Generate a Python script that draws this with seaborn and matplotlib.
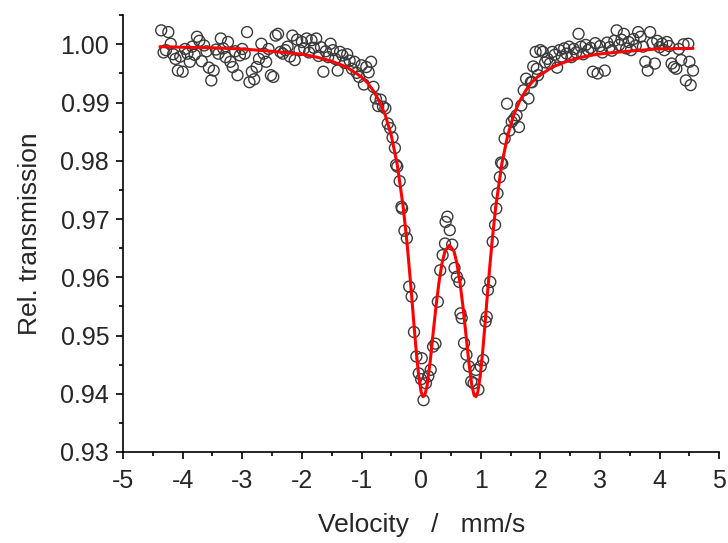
import numpy as np
import pandas as pd
import matplotlib
matplotlib.use("Agg")
import matplotlib.pyplot as plt
from matplotlib.ticker import MultipleLocator, FormatStrFormatter
import seaborn as sns

# measured points (velocity in mm/s, relative transmission)
velocity = [
    -4.36, -4.32, -4.28, -4.24, -4.20, -4.16, -4.12, -4.08, -4.04, -4.00,
    -3.96, -3.92, -3.88, -3.84, -3.80, -3.76, -3.72, -3.68, -3.64, -3.60,
    -3.56, -3.52, -3.48, -3.44, -3.40, -3.36, -3.32, -3.28, -3.24, -3.20,
    -3.16, -3.12, -3.08, -3.04, -3.00, -2.96, -2.92, -2.88, -2.84, -2.80,
    -2.76, -2.72, -2.68, -2.64, -2.60, -2.56, -2.52, -2.48, -2.44, -2.40,
    -2.36, -2.32, -2.28, -2.24, -2.20, -2.16, -2.12, -2.08, -2.04, -2.00,
    -1.96, -1.92, -1.88, -1.84, -1.80, -1.76, -1.72, -1.68, -1.64, -1.60,
    -1.56, -1.52, -1.48, -1.44, -1.40, -1.36, -1.32, -1.28, -1.24, -1.20,
    -1.16, -1.12, -1.08, -1.04, -1.00, -0.96, -0.92, -0.88, -0.84, -0.80,
    -0.76, -0.72, -0.68, -0.64, -0.60, -0.56, -0.52, -0.48, -0.44, -0.40,
    -0.42, -0.36, -0.33, -0.32, -0.28, -0.24, -0.20, -0.16, -0.12, -0.08,
    -0.04, 0.00, 0.01, 0.04, 0.08, 0.12, 0.16, 0.20, 0.24, 0.28,
    0.32, 0.36, 0.40, 0.41, 0.44, 0.48, 0.52, 0.56, 0.60, 0.64,
    0.66, 0.68, 0.72, 0.76, 0.80, 0.84, 0.88, 0.92, 0.96, 1.00,
    1.04, 1.08, 1.10, 1.12, 1.16, 1.20, 1.24, 1.26, 1.28, 1.32,
    1.34, 1.36, 1.40, 1.44, 1.48, 1.52, 1.56, 1.60, 1.64, 1.68,
    1.72, 1.76, 1.80, 1.84, 1.86, 1.88, 1.92, 1.94, 1.96, 2.00,
    2.04, 2.08, 2.12, 2.16, 2.20, 2.24, 2.28, 2.32, 2.36, 2.40,
    2.44, 2.48, 2.52, 2.56, 2.60, 2.64, 2.68, 2.72, 2.76, 2.80,
    2.84, 2.88, 2.92, 2.96, 3.00, 3.04, 3.08, 3.12, 3.16, 3.20,
    3.24, 3.28, 3.32, 3.36, 3.40, 3.44, 3.48, 3.52, 3.56, 3.60,
    3.64, 3.68, 3.72, 3.76, 3.80, 3.84, 3.88, 3.92, 3.96, 4.00,
    4.04, 4.08, 4.12, 4.16, 4.20, 4.24, 4.28, 4.32, 4.36, 4.40,
    4.44, 4.48, 4.50, 4.52, 4.56,
]
transmission = [
    1.0024, 0.9986, 0.9990, 1.0021, 1.0001, 0.9983, 0.9975, 0.9955, 0.9979, 0.9953,
    0.9992, 0.9984, 0.9970, 0.9996, 0.9982, 1.0013, 1.0006, 0.9971, 0.9998, 0.9988,
    0.9960, 0.9938, 0.9955, 0.9991, 0.9984, 1.0010, 0.9993, 0.9978, 1.0004, 0.9970,
    0.9961, 0.9988, 0.9947, 0.9981, 0.9992, 0.9984, 1.0021, 0.9935, 0.9953, 0.9940,
    0.9961, 0.9975, 1.0001, 0.9984, 0.9970, 0.9992, 0.9947, 0.9944, 1.0015, 1.0018,
    0.9987, 0.9984, 0.9990, 0.9996, 0.9979, 1.0015, 0.9973, 1.0008, 0.9990, 1.0004,
    0.9993, 1.0010, 0.9986, 1.0007, 0.9994, 1.0010, 0.9980, 0.9995, 0.9953, 0.9988,
    0.9978, 1.0001, 0.9990, 0.9975, 0.9955, 0.9987, 0.9981, 0.9968, 0.9983, 0.9972,
    0.9958, 0.9970, 0.9951, 0.9944, 0.9964, 0.9931, 0.9961, 0.9952, 0.9970, 0.9927,
    0.9907, 0.9894, 0.9905, 0.9893, 0.9890, 0.9864, 0.9856, 0.9840, 0.9822, 0.9790,
    0.9793, 0.9765, 0.9721, 0.9718, 0.9680, 0.9667, 0.9584, 0.9567, 0.9506, 0.9464,
    0.9435, 0.9425, 0.9461, 0.9389, 0.9418, 0.9430, 0.9441, 0.9481, 0.9486, 0.9558,
    0.9612, 0.9638, 0.9658, 0.9695, 0.9704, 0.9681, 0.9656, 0.9616, 0.9601, 0.9592,
    0.9538, 0.9530, 0.9487, 0.9467, 0.9447, 0.9421, 0.9418, 0.9441, 0.9407, 0.9447,
    0.9458, 0.9524, 0.9532, 0.9578, 0.9592, 0.9661, 0.9690, 0.9718, 0.9744, 0.9772,
    0.9797, 0.9795, 0.9838, 0.9898, 0.9852, 0.9867, 0.9872, 0.9878, 0.9858, 0.9895,
    0.9921, 0.9941, 0.9907, 0.9935, 0.9935, 0.9962, 0.9987, 0.9958, 0.9947, 0.9990,
    0.9987, 0.9969, 0.9975, 0.9967, 0.9987, 0.9982, 0.9960, 0.9990, 0.9979, 0.9993,
    0.9984, 0.9996, 0.9978, 0.9992, 0.9986, 1.0018, 0.9996, 0.9983, 0.9999, 0.9990,
    0.9994, 0.9953, 1.0002, 0.9950, 0.9997, 0.9986, 0.9955, 1.0003, 0.9995, 0.9989,
    1.0006, 1.0024, 0.9999, 1.0008, 1.0018, 0.9993, 1.0004, 0.9990, 1.0009, 0.9998,
    1.0021, 1.0013, 0.9996, 0.9970, 0.9955, 1.0021, 1.0002, 0.9967, 1.0006, 0.9995,
    1.0001, 0.9990, 1.0004, 0.9997, 0.9967, 0.9961, 0.9958, 0.9992, 0.9973, 1.0000,
    0.9938, 1.0001, 0.9970, 0.9930, 0.9955,
]

# fitted doublet
fit_velocity = [
    -4.38, -4.0, -3.5, -3.0, -2.5, -2.0, -1.75, -1.5, -1.25, -1.0,
    -0.9, -0.8, -0.7, -0.6, -0.5, -0.4, -0.3, -0.24, -0.2, -0.16,
    -0.12, -0.08, -0.04, 0.0, 0.03, 0.06, 0.1, 0.15, 0.2, 0.25,
    0.3, 0.35, 0.4, 0.475, 0.55, 0.6, 0.65, 0.7, 0.75, 0.8,
    0.85, 0.89, 0.92, 0.95, 0.99, 1.03, 1.07, 1.11, 1.15, 1.19,
    1.25, 1.35, 1.45, 1.55, 1.65, 1.75, 1.85, 1.95, 2.2, 2.45,
    2.7, 2.95, 3.45, 3.95, 4.45, 4.56,
]
fit_transmission = [
    0.9996, 0.9995, 0.9994, 0.9992, 0.9988, 0.9983, 0.9978, 0.9971, 0.9961, 0.9944,
    0.9934, 0.9920, 0.9902, 0.9878, 0.9843, 0.9793, 0.9720, 0.9662, 0.9617, 0.9569,
    0.9518, 0.9470, 0.9430, 0.9403, 0.9395, 0.9397, 0.9414, 0.9454, 0.9503, 0.9551,
    0.9592, 0.9624, 0.9645, 0.9655, 0.9645, 0.9624, 0.9592, 0.9551, 0.9503, 0.9454,
    0.9414, 0.9397, 0.9395, 0.9403, 0.9430, 0.9470, 0.9518, 0.9569, 0.9617, 0.9662,
    0.9720, 0.9793, 0.9843, 0.9878, 0.9902, 0.9920, 0.9934, 0.9944, 0.9961, 0.9971,
    0.9978, 0.9983, 0.9988, 0.9992, 0.9993, 0.9993,
]

df = pd.DataFrame({"v": velocity, "t": transmission})
fit = pd.DataFrame({"v": fit_velocity, "t": fit_transmission})

sns.set_style("ticks")
plt.rcParams["font.family"] = ["Liberation Sans", "DejaVu Sans"]

fig = plt.figure(figsize=(7.28, 5.43), dpi=100)
ax = fig.add_axes([0.169, 0.1676, 0.819, 0.8044])

sns.scatterplot(data=df, x="v", y="t", ax=ax, s=62, marker="o",
                facecolor="none", edgecolor="#3a3a3a", linewidth=1.0, zorder=2)
sns.lineplot(data=fit, x="v", y="t", ax=ax, color="red", linewidth=2.2,
             sort=False, estimator=None, zorder=3)

ax.set_xlim(-5, 5)
ax.set_ylim(0.93, 1.005)
ax.xaxis.set_major_locator(MultipleLocator(1))
ax.xaxis.set_minor_locator(MultipleLocator(0.5))
ax.yaxis.set_major_locator(MultipleLocator(0.01))
ax.yaxis.set_minor_locator(MultipleLocator(0.005))
ax.yaxis.set_major_formatter(FormatStrFormatter("%.2f"))
ax.xaxis.set_major_formatter(FormatStrFormatter("%d"))

ax.tick_params(which="major", direction="out", length=5, width=1.2,
               labelsize=18, pad=5, color="black")
ax.tick_params(which="minor", direction="out", length=3, width=1.2, color="black")
ax.tick_params(axis="x", which="major", pad=7)

sns.despine(ax=ax)
for s in ["left", "bottom"]:
    ax.spines[s].set_linewidth(1.2)
    ax.spines[s].set_color("black")

ax.set_xlabel("Velocity   /   mm/s", fontsize=19, labelpad=15)
ax.set_ylabel("Rel. transmission", fontsize=19, labelpad=13)

fig.savefig("out.png", dpi=100, facecolor="white")
